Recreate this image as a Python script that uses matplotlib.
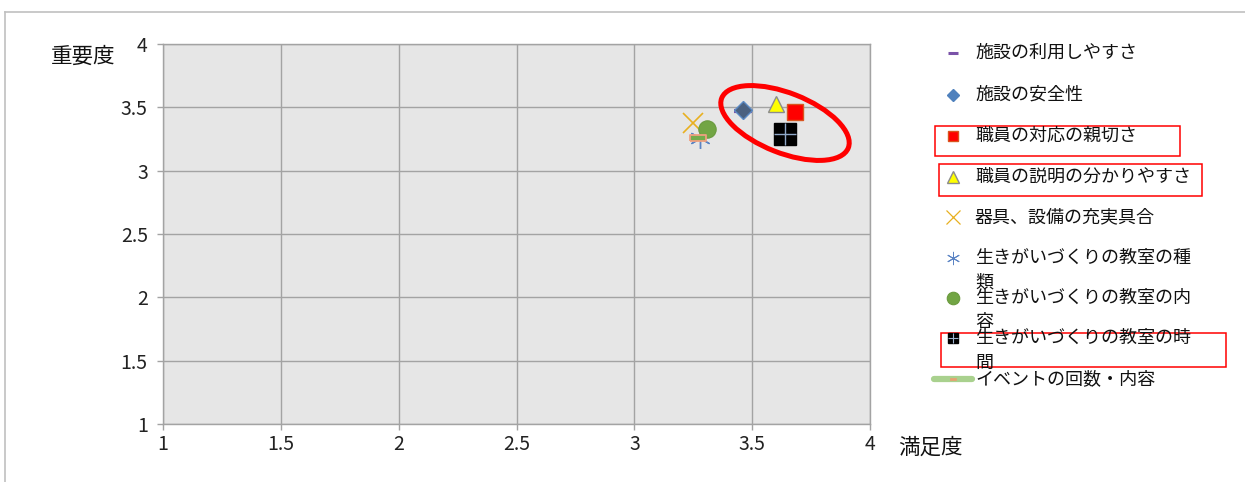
import matplotlib
matplotlib.use("Agg")
import matplotlib.pyplot as plt
from matplotlib.patches import Ellipse, Rectangle

plt.rcParams['font.family'] = ['Noto Sans CJK JP', 'DejaVu Sans']

# ---- data ----
series_names = [
    "施設の利用しやすさ",
    "施設の安全性",
    "職員の対応の親切さ",
    "職員の説明の分かりやすさ",
    "器具、設備の充実具合",
    "生きがいづくりの教室の種類",
    "生きがいづくりの教室の内容",
    "生きがいづくりの教室の時間",
    "イベントの回数・内容",
]
legend_labels = [
    "施設の利用しやすさ",
    "施設の安全性",
    "職員の対応の親切さ",
    "職員の説明の分かりやすさ",
    "器具、設備の充実具合",
    "生きがいづくりの教室の種\n類",
    "生きがいづくりの教室の内\n容",
    "生きがいづくりの教室の時\n間",
    "イベントの回数・内容",
]
satisfaction = [3.46, 3.46, 3.68, 3.60, 3.25, 3.28, 3.31, 3.64, 3.27]   # 満足度 (x)
importance   = [3.47, 3.48, 3.46, 3.53, 3.38, 3.26, 3.33, 3.29, 3.26]   # 重要度 (y)
tick_values = [1, 1.5, 2, 2.5, 3, 3.5, 4]
tick_labels = ["1", "1.5", "2", "2.5", "3", "3.5", "4"]
x_label = "満足度"
y_label = "重要度"

W, H = 1245, 482
fig = plt.figure(figsize=(W / 100, H / 100), dpi=100)
fig.patch.set_facecolor('white')

ax = fig.add_axes([163 / W, (H - 424) / H, 707 / W, 380 / H])
ax.set_facecolor('#e6e6e6')
ax.set_xlim(1, 4)
ax.set_ylim(1, 4)
ax.set_xticks(tick_values)
ax.set_xticklabels(tick_labels)
ax.set_yticks(tick_values)
ax.set_yticklabels(tick_labels)
ax.grid(True, color='#a3a3a3', linewidth=1.0)
ax.set_axisbelow(True)
for s in ax.spines.values():
    s.set_color('#a3a3a3')
    s.set_linewidth(1.0)
ax.tick_params(axis='both', direction='out', length=4, width=1.0, color='#a3a3a3',
               labelsize=14, labelcolor='#222222')
ax.tick_params(axis='y', pad=7)
ax.tick_params(axis='x', pad=3)

# marker styles
styles = [
    dict(marker='_', ms=13.5, mew=3, mec='#7a52a8', mfc='#7a52a8'),
    dict(marker='D', ms=8.8, mew=1, mec='#5b8ac4', mfc='#4b6180'),
    dict(marker='s', ms=11.5, mew=1, mec='#d9541e', mfc='#ff0000'),
    dict(marker='^', ms=11.5, mew=1, mec='#8c8c8c', mfc='#ffff00'),
    dict(marker='x', ms=14.5, mew=1.2, mec='#e8b020', mfc='none'),
    dict(marker=(6, 2, 0), ms=15, mew=1.0, mec='#5b84c4', mfc='none'),
    dict(marker='o', ms=12.5, mew=0.8, mec='#6a9a3e', mfc='#72a544'),
    dict(marker='s', ms=15.5, mew=1, mec='#000000', mfc='#000000'),
    dict(marker=[(-1, -0.42), (1, -0.42), (1, 0.42), (-1, 0.42), (-1, -0.42)],
         ms=11.5, mew=1.3, mec='#f0a080', mfc='#74ac4c'),
]

for i, (name, xv, yv) in enumerate(zip(series_names, satisfaction, importance)):
    st = styles[i]
    ax.plot([xv], [yv], linestyle='none', zorder=3 + i, label=name, **st)
    if i == 7:
        ax.plot([xv], [yv], linestyle='none', marker='+', ms=15.5, mew=1.0,
                mec='#8fa8c8', zorder=3 + i)

# ---- overlay in pixel coordinates ----
ov = fig.add_axes([0, 0, 1, 1], facecolor='none')
ov.set_xlim(0, W)
ov.set_ylim(H, 0)
ov.axis('off')

# outer border
ov.plot([4.5, W], [11.5, 11.5], color='#c0c0c0', lw=1.2)
ov.plot([4.5, 4.5], [11.5, H], color='#c0c0c0', lw=1.2)

# axis titles
ov.text(83, 57, y_label, ha='center', va='center', fontsize=15.5, color='#111111')
ov.text(930, 448, x_label, ha='center', va='center', fontsize=15.5, color='#111111')

# legend
rows = [53, 95, 136, 177, 217, 258, 298, 338, 379]
legend_sizes = [7.5, 6.5, 7.5, 8.5, 10, 9.5, 9.0, 7.8, 4.5]
mx, tx = 953, 975
for i, lab in enumerate(legend_labels):
    y = rows[i]
    st = dict(styles[i])
    st['ms'] = legend_sizes[i]
    if i == 1:
        st['mfc'] = '#4f81bd'
        st['mec'] = '#4f81bd'
    if i == 0:
        st['mew'] = 2.2
    if i == 5:
        st['mew'] = 0.7
    if i == 4:
        st['mew'] = 0.9
    if i == 8:
        ov.plot([934, 972], [y, y], color='#a9d18e', lw=4.5, solid_capstyle='round')
        st['mfc'] = '#e8a070'
        st['mec'] = '#e8a070'
        st['mew'] = 0.5
    ov.plot([mx], [y], linestyle='none', **st)
    if i == 7:
        ov.plot([mx], [y], linestyle='none', marker='+', ms=7.8, mew=0.8, mec='#9fb4d0')
    lines = lab.split('\n')
    for j, ln in enumerate(lines):
        ov.text(tx, y + 24.5 * j, ln, ha='left', va='center', fontsize=13, color='#111111')

# red highlight boxes
for (x0, y0, x1, y1) in [(935, 125.5, 1180, 156), (939, 163.5, 1202, 195.5), (941, 333, 1225.5, 367)]:
    ov.add_patch(Rectangle((x0, y0), x1 - x0, y1 - y0, fill=False, ec='#ff0000', lw=1.1))

# red ellipse
ov.add_patch(Ellipse((785, 123), 136, 60, angle=21.5, fill=False, ec='#ff0000', lw=3.6))

fig.savefig('out.png', dpi=100)
